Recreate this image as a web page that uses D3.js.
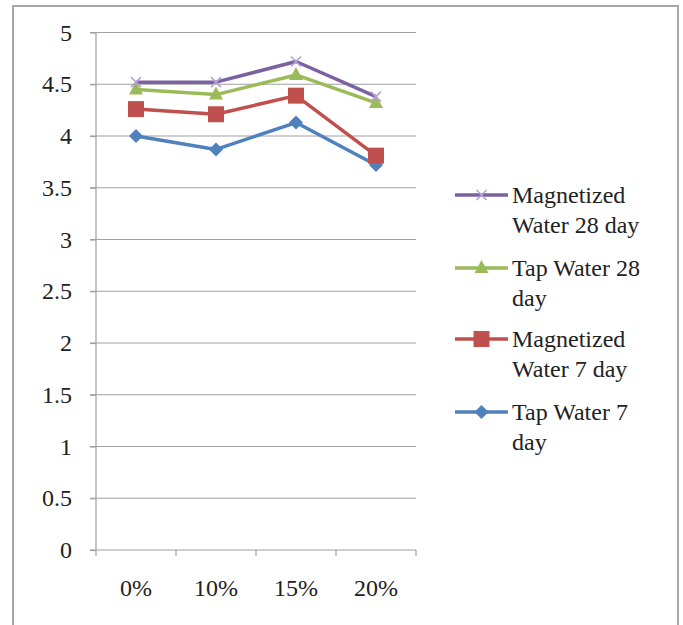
<!DOCTYPE html>
<html><head><meta charset="utf-8">
<script src="https://cdn.jsdelivr.net/npm/d3@7"></script>
<style>body{margin:0;background:#fff}svg{display:block}text{font-family:"Liberation Serif","LiberationSerif","Times New Roman",Times,Tinos,"Noto Serif","DejaVu Serif","FreeSerif",serif}</style>
</head><body><svg id="c" width="683" height="625"></svg>
<script>
const categories = ["0%", "10%", "15%", "20%"];
const yTicks = [0, 0.5, 1, 1.5, 2, 2.5, 3, 3.5, 4, 4.5, 5];
const magnetized28 = [4.52, 4.52, 4.72, 4.38];
const tap28 = [4.45, 4.40, 4.59, 4.32];
const magnetized7 = [4.26, 4.21, 4.39, 3.81];
const tap7 = [4.0, 3.87, 4.13, 3.72];
const seriesNames = [["Magnetized", "Water 28 day"], ["Tap Water 28", "day"], ["Magnetized", "Water 7 day"], ["Tap Water 7", "day"]];

const series = [
  {name: seriesNames[0], values: magnetized28, color: "#7D60A0", marker: "x", mcolor: "#B3A2D6"},
  {name: seriesNames[1], values: tap28, color: "#9BBB59", marker: "triangle", mcolor: "#9BBB59"},
  {name: seriesNames[2], values: magnetized7, color: "#C0504D", marker: "square", mcolor: "#C0504D"},
  {name: seriesNames[3], values: tap7, color: "#4F81BD", marker: "diamond", mcolor: "#4F81BD"}
];

const svg = d3.select("#c");
const fs = 24;
const txt = "#222";

// outer border
svg.append("rect").attr("x", 13).attr("y", 6).attr("width", 665).attr("height", 640)
  .attr("fill", "#fff").attr("stroke", "#a6a6a6").attr("stroke-width", 2);

const x = d3.scaleBand().domain(categories).range([96, 416]);
const y = d3.scaleLinear().domain([0, 5]).range([550, 32.5]);

// gridlines
svg.append("g").selectAll("line").data(yTicks.filter(d => d > 0)).join("line")
  .attr("x1", 90).attr("x2", 416).attr("y1", d => y(d)).attr("y2", d => y(d))
  .attr("stroke", "#a0a0a0").attr("stroke-width", 1.2);

// y axis
const yAxis = d3.axisLeft(y).tickValues(yTicks).tickSize(6).tickPadding(18).tickFormat(d3.format("~g"));
const ga = svg.append("g").attr("transform", "translate(96,0)").call(yAxis);
ga.attr("font-family", null).attr("font-size", null);
ga.select(".domain").attr("stroke", "#a0a0a0").attr("stroke-width", 1.2).attr("d", `M-6,${y(5)}H0V${y(0)}`);
ga.selectAll(".tick line").attr("stroke", "#a0a0a0").attr("stroke-width", 1.2);
ga.selectAll(".tick text").attr("font-size", fs).attr("fill", txt);

// x axis
const gx = svg.append("g").attr("transform", `translate(0,${y(0)})`);
gx.append("line").attr("x1", 90).attr("x2", 416).attr("y1", 0).attr("y2", 0).attr("stroke", "#a0a0a0").attr("stroke-width", 1.2);
const bounds = categories.map(c => x(c)).concat([x.range()[1]]);
gx.selectAll("line.t").data(bounds).join("line").attr("class", "t")
  .attr("x1", d => d).attr("x2", d => d).attr("y1", 0).attr("y2", 6)
  .attr("stroke", "#a0a0a0").attr("stroke-width", 1.2);
gx.selectAll("text").data(categories).join("text")
  .attr("x", d => x(d) + x.bandwidth() / 2).attr("y", 46)
  .attr("text-anchor", "middle").attr("font-size", fs).attr("fill", txt)
  .text(d => d);

const cx = (i) => x(categories[i]) + x.bandwidth() / 2;
const line = d3.line().x((d, i) => cx(i)).y(d => y(d));

function drawMarker(g, type, color, px, py) {
  if (type === "x") {
    g.append("path").attr("d", `M${px-5},${py-5}L${px+5},${py+5}M${px-5},${py+5}L${px+5},${py-5}`)
      .attr("stroke", color).attr("stroke-width", 1.6).attr("fill", "none");
  } else if (type === "triangle") {
    g.append("path").attr("d", `M${px},${py-8}L${px+7},${py+5}L${px-7},${py+5}Z`).attr("fill", color);
  } else if (type === "square") {
    g.append("rect").attr("x", px - 8).attr("y", py - 8).attr("width", 16).attr("height", 16).attr("fill", color);
  } else {
    g.append("path").attr("d", `M${px},${py-7}L${px+7},${py}L${px},${py+7}L${px-7},${py}Z`).attr("fill", color);
  }
}

const order = [3, 2, 1, 0];
order.forEach(si => {
  const s = series[si];
  const g = svg.append("g");
  g.append("path").datum(s.values).attr("d", line).attr("fill", "none")
    .attr("stroke", s.color).attr("stroke-width", 3.5).attr("stroke-linejoin", "round");
  s.values.forEach((v, i) => drawMarker(g, s.marker, s.mcolor, cx(i), y(v)));
});

// legend
const legY = [195, 268, 339, 412];
series.forEach((s, i) => {
  const g = svg.append("g");
  const ly = legY[i];
  g.append("line").attr("x1", 455).attr("x2", 508).attr("y1", ly).attr("y2", ly)
    .attr("stroke", s.color).attr("stroke-width", 3.5);
  drawMarker(g, s.marker, s.mcolor, 481.5, ly);
  s.name.forEach((t, j) => {
    g.append("text").attr("x", 512).attr("y", ly + j * 30).attr("dy", "0.35em")
      .attr("font-size", fs).attr("fill", txt).text(t);
  });
});
</script></body></html>
